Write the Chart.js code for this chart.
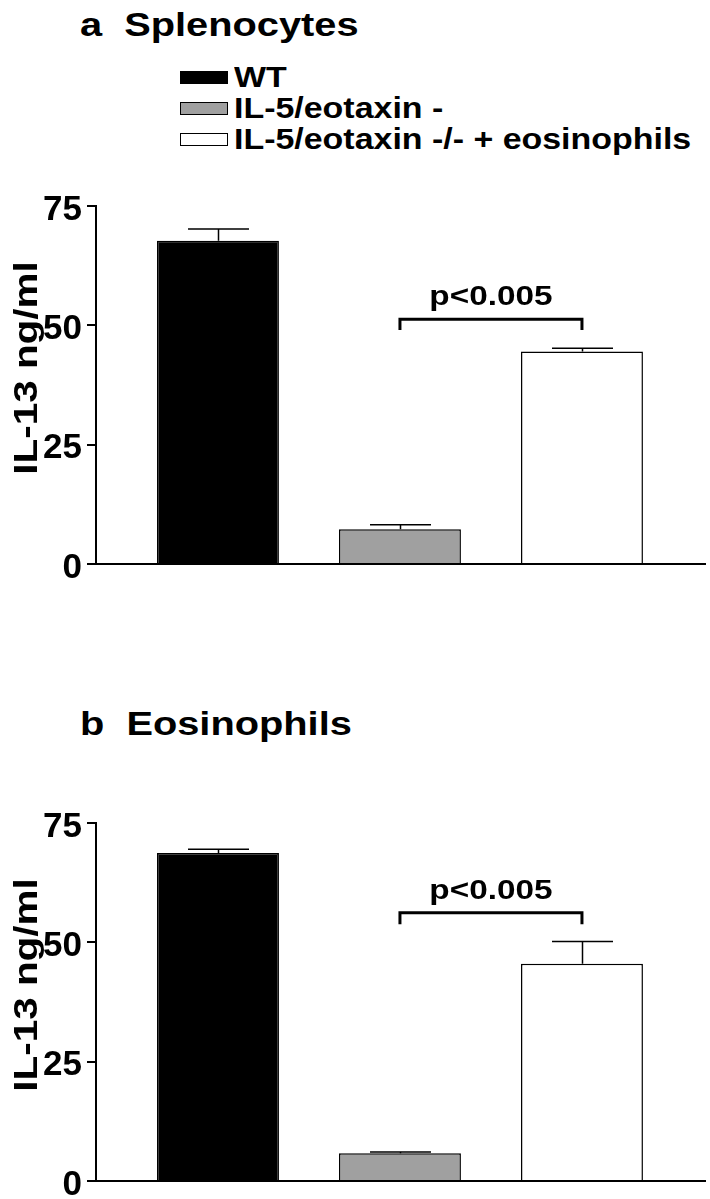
<!DOCTYPE html>
<html><head><meta charset="utf-8">
<script src="https://cdn.jsdelivr.net/npm/chart.js@4/dist/chart.umd.min.js"></script>
<style>
html,body{margin:0;padding:0;background:#fff;}
body{width:710px;height:1199px;position:relative;overflow:hidden;font-family:"Liberation Sans",Arial,sans-serif;font-weight:bold;color:#000;}
.ptitle{position:absolute;left:80px;font-size:34px;line-height:34px;white-space:pre;transform:scaleX(1.17);transform-origin:0 0;}
#legend{position:absolute;left:180px;top:62px;}
.lrow{display:flex;align-items:center;height:31px;font-size:29px;white-space:pre;}
.lrow span{display:inline-block;transform:scaleX(1.17);transform-origin:0 50%;}
.lbox{width:48px;height:13px;box-sizing:border-box;border:1.5px solid #000;margin-right:6px;}
.cw{position:absolute;left:0;width:710px;}
</style></head>
<body>
<div class="ptitle" id="tA" style="top:7px"></div>
<div id="legend"></div>
<div class="cw" style="top:150px;height:450px"><canvas id="c1" width="710" height="450"></canvas></div>
<div class="ptitle" id="tB" style="top:706px"></div>
<div class="cw" style="top:767px;height:450px"><canvas id="c2" width="710" height="450"></canvas></div>
<script>
const panelTitles = ['a  Splenocytes', 'b  Eosinophils'];
const categories = ['WT', 'IL-5/eotaxin -', 'IL-5/eotaxin -/- + eosinophils'];
const barColors = ['#000000', '#a0a0a0', '#ffffff'];
const xPositions = [1, 2, 3];
const yTicks = [0, 25, 50, 75];
const yTitle = 'IL-13 ng/ml';
const splenocyteMeans = [67.7, 7.3, 44.5];
const splenocyteErrors = [2.5, 0.9, 0.7];
const eosinophilMeans = [68.7, 5.8, 45.5];
const eosinophilErrors = [0.8, 0.3, 4.7];
const pLabel = 'p<0.005';
const compareIdx = [1, 2];
const splenocyteBracket = [51.3, 49.0];
const eosinophilBracket = [56.2, 53.8];

document.getElementById('tA').textContent = panelTitles[0];
document.getElementById('tB').textContent = panelTitles[1];
const leg = document.getElementById('legend');
categories.forEach((c, i) => {
  const row = document.createElement('div'); row.className = 'lrow';
  const box = document.createElement('div'); box.className = 'lbox'; box.style.background = barColors[i];
  const t = document.createElement('span'); t.textContent = c;
  row.appendChild(box); row.appendChild(t); leg.appendChild(row);
});

const FONT = '"Liberation Sans", Arial, sans-serif';
const STRETCH = 1.19;

const annot = {
  id: 'annot',
  afterDatasetsDraw(chart, args, opts) {
    const {ctx, chartArea} = chart;
    const x = chart.scales.x, y = chart.scales.y;
    const bars = chart.getDatasetMeta(0).data;
    ctx.save();
    ctx.strokeStyle = '#000';
    ctx.lineWidth = 1.5;
    opts.means.forEach((m, i) => {
      const px = Math.round(x.getPixelForValue(xPositions[i])) + 0.5;
      const top = y.getPixelForValue(m);
      const up = y.getPixelForValue(m + opts.errors[i]);
      const half = bars[i].width / 4;
      ctx.beginPath();
      ctx.moveTo(px, top); ctx.lineTo(px, up);
      ctx.moveTo(px - half, up); ctx.lineTo(px + half, up);
      ctx.stroke();
    });
    const xl = x.getPixelForValue(xPositions[compareIdx[0]]);
    const xr = x.getPixelForValue(xPositions[compareIdx[1]]);
    const yb = y.getPixelForValue(opts.bracket[0]);
    const yl = y.getPixelForValue(opts.bracket[1]);
    ctx.lineWidth = 3;
    ctx.beginPath();
    ctx.moveTo(xl, yl); ctx.lineTo(xl, yb); ctx.lineTo(xr, yb); ctx.lineTo(xr, yl);
    ctx.stroke();
    ctx.fillStyle = '#000';
    ctx.textAlign = 'center';
    ctx.save();
    ctx.translate((xl + xr) / 2, yb - 14);
    ctx.scale(STRETCH, 1);
    ctx.font = 'bold 28px ' + FONT;
    ctx.textBaseline = 'alphabetic';
    ctx.fillText(pLabel, 0, 0);
    ctx.restore();
    ctx.translate(28, (chartArea.top + chartArea.bottom) / 2 - 17);
    ctx.rotate(-Math.PI / 2);
    ctx.scale(STRETCH, 1);
    ctx.textBaseline = 'middle';
    ctx.font = 'bold 34px ' + FONT;
    ctx.fillText(yTitle, 0, 0);
    ctx.restore();
  }
};

function makeChart(id, means, errors, bracket) {
  return new Chart(document.getElementById(id), {
    type: 'bar',
    data: {
      datasets: [{
        data: xPositions.map((xv, i) => ({x: xv, y: means[i]})),
        backgroundColor: barColors,
        borderColor: '#000',
        borderWidth: 1.5,
        borderSkipped: 'bottom',
        barPercentage: 0.67,
        categoryPercentage: 1
      }]
    },
    options: {
      responsive: false,
      animation: false,
      layout: {padding: {top: 56, right: 5, left: 0, bottom: 0}},
      plugins: {legend: {display: false}, tooltip: {enabled: false}, annot: {means, errors, bracket}},
      scales: {
        x: {
          type: 'linear', min: 0.33, max: 3.676, offset: false,
          afterBuildTicks(s) { s.ticks = xPositions.map(v => ({value: v})); },
          ticks: {display: false},
          grid: {display: false},
          border: {display: true, color: '#000', width: 2},
          afterFit(s) { s.height = 36; }
        },
        y: {
          min: 0, max: 75,
          afterBuildTicks(s) { s.ticks = yTicks.map(v => ({value: v})); },
          ticks: {color: '#000', font: {family: FONT, weight: 'bold', size: 35}, padding: 5, labelOffset: 4},
          grid: {drawOnChartArea: false, drawTicks: true, tickLength: 9, color: '#000', lineWidth: 2},
          border: {display: true, color: '#000', width: 2},
          afterFit(s) { s.width = 96; }
        }
      }
    },
    plugins: [annot]
  });
}

makeChart('c1', splenocyteMeans, splenocyteErrors, splenocyteBracket);
makeChart('c2', eosinophilMeans, eosinophilErrors, eosinophilBracket);
</script>
</body></html>
